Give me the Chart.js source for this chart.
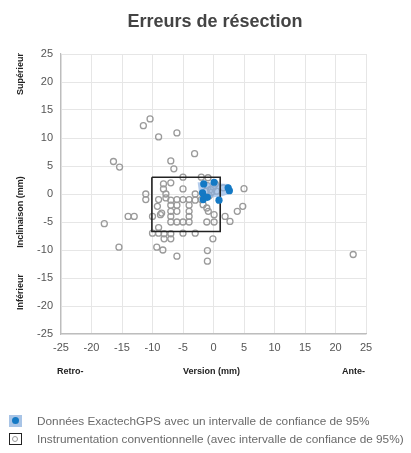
<!DOCTYPE html>
<html>
<head>
<meta charset="utf-8">
<script src="https://cdn.jsdelivr.net/npm/chart.js@4.4.1/dist/chart.umd.min.js"></script>
<style>
    body { margin: 0; background: #fff; font-family: "Liberation Sans", Arial, sans-serif; }
    #cadre { position: relative; width: 411px; height: 453px; }
    #graphe { position: absolute; left: 0; top: 0; }
    .titre { position: absolute; left: 0; width: 430px; top: 11px; text-align: center; font-size: 18px; font-weight: bold; color: #444; }
    .etiq { position: absolute; font-size: 9px; font-weight: bold; color: #222; white-space: nowrap; }
    .vert { transform: translate(-50%, -50%) rotate(-90deg); }
    .legende { position: absolute; left: 9px; font-size: 11.8px; color: #6a6a6a; white-space: nowrap; }
    .legende span.icone { position: absolute; left: 0; top: 0; width: 13px; height: 12px; box-sizing: border-box; }
    .legende span.texte { position: absolute; left: 28px; top: -1px; }
</style>
</head>
<body>
<div id="cadre">
    <canvas id="graphe" width="411" height="453"></canvas>
    <div class="titre">Erreurs de résection</div>
    <div class="etiq vert" style="left:20px; top:74px;">Supérieur</div>
    <div class="etiq vert" style="left:20px; top:212px;">Inclinaison (mm)</div>
    <div class="etiq vert" style="left:20px; top:292px;">Inférieur</div>
    <div class="etiq" style="left:57px; top:366px;">Retro-</div>
    <div class="etiq" style="left:183px; top:366px;">Version (mm)</div>
    <div class="etiq" style="left:342px; top:366px;">Ante-</div>
    <div class="legende" style="top:415px;">
        <span class="icone" style="background:#a8c4e6;"><span style="position:absolute; left:3px; top:2px; width:7px; height:7px; border-radius:50%; background:#1479c4;"></span></span>
        <span class="texte">Données ExactechGPS avec un intervalle de confiance de 95%</span>
    </div>
    <div class="legende" style="top:433px;">
        <span class="icone" style="border:1.5px solid #222; background:#fff;"><span style="position:absolute; left:2px; top:1.5px; width:4px; height:4px; border-radius:50%; border:1.2px solid #999;"></span></span>
        <span class="texte">Instrumentation conventionnelle (avec intervalle de confiance de 95%)</span>
    </div>
</div>

<script>
// bornes et graduations des axes
var graduationsX = [-25, -20, -15, -10, -5, 0, 5, 10, 15, 20, 25];
var graduationsY = [-25, -20, -15, -10, -5, 0, 5, 10, 15, 20, 25];

// instrumentation conventionnelle (cercles gris)
var conventionnelX = [
    -10.4, -11.5, -9.0, -6.0, -3.1, -16.4, -15.4, -7.0, -6.5, -5.0, -2.0, -0.9,
    -8.2, -7.0, -8.2, -5.0, -11.1, -11.1, -9.0, -7.8, -7.8, -7.0, -6.0, -5.0, -4.0, -3.0, -3.0, -2.0,
    -1.7, -1.1, -0.85, -9.2, -8.5, -8.7, -7.0, -7.0, -7.0, -6.0, -6.0, -4.0, -4.0, -4.0,
    -14.0, -13.0, -10.0, -17.9,
    -7.0, -6.0, -5.0, -4.0, -1.1, 0.1, 0.1, 1.9, 2.7, 3.9, 4.8, 5.0,
    -10.0, -9.0, -9.0, -8.1, -7.0, -8.1, -7.0, -5.0, -3.0, -0.1,
    -15.5, -9.3, -8.3, -6.0, -1.0, -1.0, 22.9,
    -1.0, -0.5, 0.0, -0.3, 0.5, -1.2, 0.3, -0.7, 1.6
];
var conventionnelY = [
    13.4, 12.2, 10.2, 10.9, 7.2, 5.8, 4.8, 5.9, 4.5, 3.0, 3.0, 2.9,
    1.8, 2.0, 0.9, 0.9, 0.0, -1.0, -1.0, 0.0, -0.7, -1.1, -1.0, -1.0, -1.0, 0.0, -1.1, -1.0,
    -1.9, -2.5, -3.1, -2.2, -3.4, -3.7, -2.0, -3.1, -4.0, -2.0, -3.1, -2.0, -3.1, -4.0,
    -4.0, -4.0, -4.0, -5.3,
    -5.0, -5.0, -5.0, -5.0, -5.0, -5.0, -3.7, -4.0, -4.9, -3.1, -2.2, 0.95,
    -7.0, -7.0, -6.0, -8.0, -8.0, -7.1, -7.1, -7.0, -7.0, -8.0,
    -9.5, -9.5, -10.0, -11.1, -10.1, -12.0, -10.8,
    1.5, 0.8, 1.2, 0.3, 0.5, 0.5, 1.8, -0.3, 1.1
];

// donnees ExactechGPS (points bleus)
var gpsX = [-1.6, 0.1, 2.4, 2.6, -1.8, -1.5, -1.7, -1.0, 0.9];
var gpsY = [1.8, 2.1, 1.1, 0.6, 0.2, -0.5, -1.0, -0.6, -1.1];

// intervalle de confiance conventionnel (rectangle noir)
var rectX = [-10.1, 1.1, 1.1, -10.1, -10.1];
var rectY = [3.0, 3.0, -6.7, -6.7, 3.0];

// intervalle de confiance ExactechGPS (zone bleue)
var zoneX = [-2.6, 2.5, 3.0, 1.2, -1.5, -2.4, -2.6];
var zoneY = [2.1, 1.8, 0.2, -0.5, -0.7, 0.5, 2.1];

function versPoints(xs, ys)
{
    return xs.map(function(x, i) {
        return {x: x, y: ys[i]};
    });
}

function optionsAxe(graduations)
{
    return {
        type: 'linear',
        min: graduations[0],
        max: graduations[graduations.length - 1],
        afterBuildTicks: function(axe) {
            axe.ticks = graduations.map(function(v) { return {value: v}; });
        },
        ticks: {
            color: '#555',
            padding: 8,
            font: {family: 'Liberation Sans', size: 11}
        },
        grid: {color: '#e6e6e6', drawTicks: false},
        border: {color: '#bdbdbd', width: 1.2}
    };
}

var axeX = optionsAxe(graduationsX);
axeX.ticks.padding = 7;
axeX.afterFit = function(axe) { axe.height = 119; };

var axeY = optionsAxe(graduationsY);
axeY.afterFit = function(axe) { axe.width = 61; };

new Chart(document.getElementById('graphe'), {
    type: 'scatter',
    data: {
        datasets: [
            {
                data: versPoints(gpsX, gpsY),
                backgroundColor: '#1479c4',
                borderColor: '#1479c4',
                pointRadius: 3.6,
                borderWidth: 0,
                order: 0
            },
            {
                data: versPoints(rectX, rectY),
                showLine: true,
                borderColor: '#222',
                borderWidth: 1.6,
                pointRadius: 0,
                fill: false,
                order: 1
            },
            {
                data: versPoints(zoneX, zoneY),
                showLine: true,
                borderWidth: 0,
                borderColor: 'rgba(0,0,0,0)',
                backgroundColor: 'rgba(140, 178, 228, 0.65)',
                pointRadius: 0,
                fill: 'shape',
                order: 2
            },
            {
                data: versPoints(conventionnelX, conventionnelY),
                backgroundColor: 'rgba(0,0,0,0)',
                borderColor: '#9a9a9a',
                borderWidth: 1.3,
                pointRadius: 3,
                order: 3
            }
        ]
    },
    options: {
        responsive: false,
        animation: false,
        layout: {padding: {left: 0, top: 54, right: 45, bottom: 0}},
        plugins: {
            legend: {display: false},
            tooltip: {enabled: false},
            title: {display: false}
        },
        scales: {x: axeX, y: axeY}
    }
});
</script>
</body>
</html>
